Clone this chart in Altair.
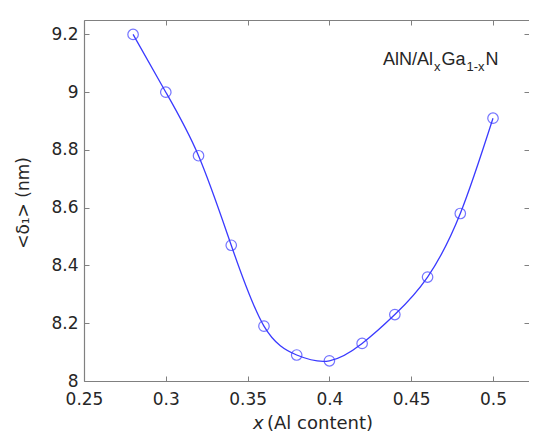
import altair as alt
import pandas as pd

# ---- data ----
x_vals = [0.28, 0.30, 0.32, 0.34, 0.36, 0.38, 0.40, 0.42, 0.44, 0.46, 0.48, 0.50]
y_vals = [9.20, 9.00, 8.78, 8.47, 8.19, 8.09, 8.07, 8.13, 8.23, 8.36, 8.58, 8.91]
x_ticks = [0.25, 0.30, 0.35, 0.40, 0.45, 0.50]
y_ticks = [8.0, 8.2, 8.4, 8.6, 8.8, 9.0, 9.2]

df = pd.DataFrame({"x": x_vals, "y": y_vals})
one = pd.DataFrame({"k": [0]})

W, H = 445, 361
BLUE = "#3a3aff"
GRAY = "#808080"
TXT = "#262626"
FONT = "DejaVu Sans"

xs = alt.Scale(domain=[0.25, 0.522], nice=False, zero=False)
ys = alt.Scale(domain=[8.0, 9.25], nice=False, zero=False)


def X(axis):
    return alt.X("x:Q", scale=xs, axis=axis)


def Y(axis):
    return alt.Y("y:Q", scale=ys, axis=axis)


base = alt.Chart(df)

# main curve with x-labels / y-labels axes
line = base.mark_line(color=BLUE, strokeWidth=1.3, interpolate="natural").encode(
    x=X(alt.Axis(orient="bottom", values=x_ticks, format="~g", grid=False,
                 domain=True, domainColor=GRAY, domainWidth=1.2, ticks=False, tickSize=0,
                 labelPadding=10, labelFont=FONT, labelFontSize=17, labelColor=TXT,
                 labelFlush=False, labelOverlap=False, title=None)),
    y=Y(alt.Axis(orient="left", values=y_ticks, format="~g", grid=False,
                 domain=True, domainColor=GRAY, domainWidth=1.2, ticks=False, tickSize=0,
                 labelPadding=6, labelFont=FONT, labelFontSize=17, labelColor=TXT,
                 labelFlush=False, labelOverlap=False, title=None)),
)

points = base.mark_point(shape="circle", filled=False, color=BLUE, size=110,
                         strokeWidth=1.2).encode(
    x=X(None), y=Y(None)
)

# inward ticks: bottom edge
tick_bottom = base.mark_point(opacity=0).encode(
    x=X(alt.Axis(orient="top", offset=-H, values=x_ticks, labels=False, domain=False,
                 grid=False, ticks=True, tickSize=5, tickColor=GRAY, title=None)),
    y=Y(None),
)
# top edge: border line + inward ticks
tick_top = base.mark_point(opacity=0).encode(
    x=X(alt.Axis(orient="bottom", offset=-H, values=x_ticks, labels=False, domain=True,
                 domainColor=GRAY, domainWidth=1.2, grid=False, ticks=True, tickSize=5,
                 tickColor=GRAY, title=None)),
    y=Y(None),
)
# left edge inward ticks
tick_left = base.mark_point(opacity=0).encode(
    x=X(None),
    y=Y(alt.Axis(orient="right", offset=-W, values=y_ticks, labels=False, domain=False,
                 grid=False, ticks=True, tickSize=5, tickColor=GRAY, title=None)),
)
# right edge inward ticks (border itself falls outside the picture)
tick_right = base.mark_point(opacity=0).encode(
    x=X(None),
    y=Y(alt.Axis(orient="left", offset=-W, values=y_ticks, labels=False, domain=False,
                 grid=False, ticks=True, tickSize=5, tickColor=GRAY, title=None)),
)

# axis titles
def txt(text, x, y, size, font=FONT, style="normal", angle=0, align="left",
        baseline="alphabetic"):
    return alt.Chart(one).mark_text(
        text=text, font=font, fontSize=size, fontStyle=style, color=TXT,
        align=align, baseline=baseline, angle=angle,
    ).encode(x=alt.value(x), y=alt.value(y))


xt1 = txt("x", 169, 409, 18, style="italic")
xt2 = txt("(Al content)", 183, 409, 18)
yt = txt("<δ₁> (nm)", -60, 183, 17, angle=270, align="center", baseline="middle")

# annotation AlN/Al_xGa_{1-x}N
AF = "Liberation Sans"
a1 = txt("AlN/Al", 299, 45, 18, font=AF)
a2 = txt("x", 350, 51, 13, font=AF)
a3 = txt("Ga", 357.5, 45, 18, font=AF)
a4 = txt("1-x", 382.5, 51, 13, font=AF)
a5 = txt("N", 401.5, 45, 18, font=AF)

chart = alt.layer(
    line, points, tick_bottom, tick_top, tick_left, tick_right,
    xt1, xt2, yt, a1, a2, a3, a4, a5,
).resolve_axis(x="independent", y="independent").properties(
    width=W, height=H,
    autosize=alt.AutoSizeParams(type="none"),
    padding={"left": 76, "top": 12, "right": 0, "bottom": 57},
    background="white",
).configure_view(stroke=None)

chart.save("out.html", embed_options={"renderer": "svg", "actions": False})
